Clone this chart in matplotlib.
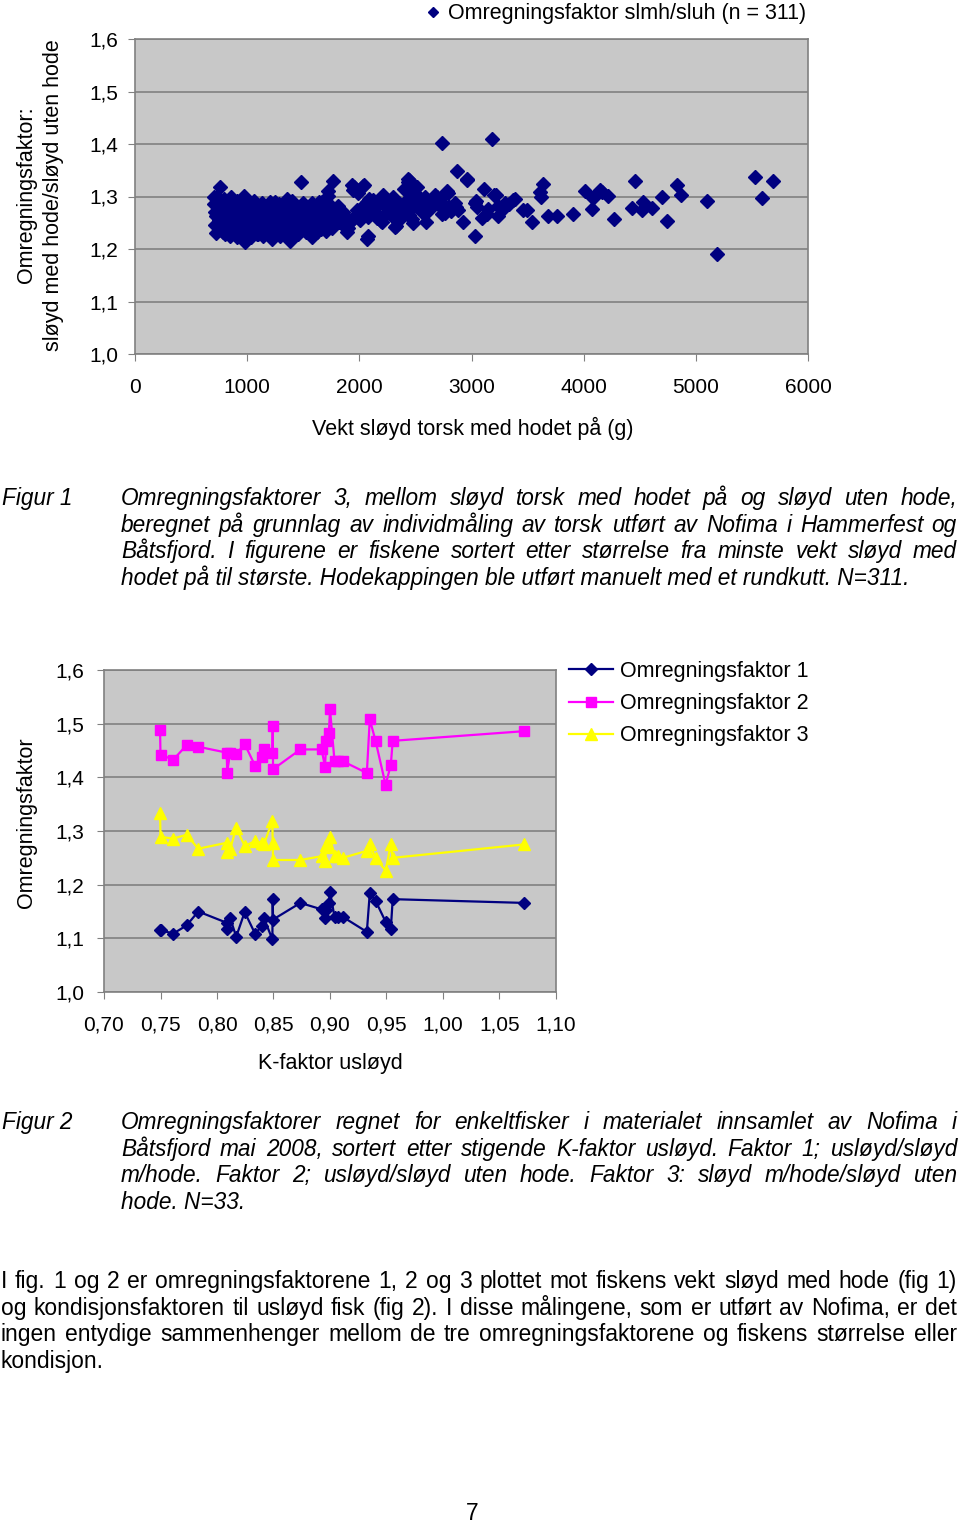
import matplotlib
matplotlib.use("Agg")
import matplotlib.pyplot as plt
import numpy as np

plt.rcParams['font.family'] = ['Liberation Sans', 'DejaVu Sans']

W, H = 960, 1524

# ===================== Data figur 1 : vekt (g) og omregningsfaktor slmh/sluh =====================
vekt = [
    700, 705, 712, 715, 720, 725, 735, 740, 745, 750, 758, 760,
    770, 778, 785, 790, 800, 805, 812, 820, 830, 838, 845, 850, 856,
    862, 870, 878, 885, 890, 900, 905, 912, 920, 928, 935, 942, 950,
    960, 968, 975, 980, 985, 992, 1000, 1008, 1015, 1022, 1030, 1038, 1045, 1050,
    1064, 1070, 1078, 1085, 1092, 1099, 1105, 1112, 1120, 1128, 1135, 1142, 1150,
    1160, 1168, 1175, 1182, 1190, 1198, 1205, 1212, 1218, 1225, 1232, 1240, 1248,
    1258, 1265, 1272, 1280, 1288, 1295, 1302, 1310, 1318, 1325, 1332, 1340, 1352,
    1360, 1368, 1375, 1381, 1388, 1395, 1402, 1410, 1418, 1425, 1432, 1440, 1448,
    1456, 1462, 1470, 1476, 1485, 1492, 1500, 1508, 1515, 1522, 1530, 1538, 1545, 1552,
    1560, 1568, 1574, 1575, 1582, 1590, 1598, 1605, 1612, 1620, 1628, 1635, 1642, 1649,
    1658, 1664, 1672, 1680, 1688, 1695, 1705, 1718, 1723, 1730, 1738, 1745, 1752, 1760, 1768, 1775, 1785, 1795,
    1813, 1820, 1843, 1850, 1855, 1870, 1887, 1900, 1910, 1931, 1935, 1945, 1950, 1960, 1975, 1991, 2006, 2020,
    2034, 2040, 2050, 2065, 2068, 2073, 2080, 2085, 2095, 2110, 2125, 2140, 2155, 2170,
    2191, 2199, 2214, 2220, 2240, 2259, 2275, 2290, 2303, 2318, 2329, 2340, 2360, 2377,
    2390, 2400, 2407, 2420, 2435, 2437, 2440, 2443, 2455, 2466, 2470, 2481, 2500, 2511,
    2526, 2540, 2560, 2585, 2590, 2600, 2620, 2645, 2660, 2675, 2690, 2700, 2715, 2733,
    2734, 2741, 2764, 2780, 2787, 2800, 2820, 2853, 2860, 2867, 2883, 2927, 2957,
    2961, 3031, 3034, 3036, 3050, 3090, 3110, 3134, 3150, 3181, 3204, 3216, 3232,
    3239, 3291, 3298, 3338, 3372, 3389, 3462, 3499, 3536, 3613, 3620, 3633, 3684,
    3762, 3908, 4012, 4071, 4086, 4150, 4160, 4219, 4272, 4428, 4457, 4517, 4532,
    4606, 4697, 4746, 4829, 4864, 5096, 5185, 5527, 5587, 5691,
]
faktor_slmh_sluh = [
    1.300, 1.285, 1.270, 1.245, 1.262, 1.230, 1.300, 1.278, 1.255, 1.240, 1.319, 1.290,
    1.268, 1.248, 1.232, 1.296, 1.229, 1.280, 1.262, 1.240, 1.285, 1.255, 1.225, 1.272, 1.300,
    1.245, 1.288, 1.260, 1.235, 1.275, 1.250, 1.222, 1.292, 1.265, 1.240, 1.280, 1.228, 1.258,
    1.272, 1.245, 1.301, 1.213, 1.285, 1.255, 1.232, 1.268, 1.290, 1.245, 1.222, 1.275, 1.258, 1.238,
    1.292, 1.265, 1.245, 1.280, 1.228, 1.229, 1.258, 1.272, 1.240, 1.288, 1.255, 1.225, 1.268,
    1.282, 1.245, 1.262, 1.232, 1.275, 1.252, 1.290, 1.238, 1.220, 1.265, 1.280, 1.248, 1.290,
    1.258, 1.232, 1.272, 1.245, 1.285, 1.225, 1.262, 1.240, 1.278, 1.255, 1.230, 1.268, 1.296,
    1.245, 1.280, 1.258, 1.215, 1.238, 1.272, 1.292, 1.250, 1.228, 1.265, 1.282, 1.242, 1.258,
    1.229, 1.275, 1.250, 1.327, 1.262, 1.238, 1.287, 1.255, 1.270, 1.232, 1.280, 1.248, 1.262, 1.240,
    1.255, 1.275, 1.222, 1.287, 1.245, 1.262, 1.235, 1.280, 1.252, 1.233, 1.268, 1.245, 1.290, 1.261,
    1.238, 1.290, 1.255, 1.272, 1.245, 1.262, 1.235, 1.311, 1.301, 1.250, 1.268, 1.282, 1.240, 1.258, 1.330, 1.270, 1.248, 1.262,
    1.281, 1.252, 1.258, 1.245, 1.270, 1.262, 1.233, 1.240, 1.250, 1.322, 1.255, 1.312, 1.318, 1.262, 1.275, 1.306, 1.255, 1.268,
    1.320, 1.322, 1.285, 1.290, 1.220, 1.225, 1.261, 1.296, 1.275, 1.282, 1.293, 1.271, 1.260, 1.285,
    1.254, 1.252, 1.303, 1.300, 1.268, 1.277, 1.290, 1.262, 1.299, 1.242, 1.244, 1.275, 1.285, 1.261,
    1.270, 1.315, 1.280, 1.292, 1.333, 1.328, 1.265, 1.331, 1.275, 1.306, 1.257, 1.249, 1.290, 1.319,
    1.281, 1.298, 1.270, 1.300, 1.252, 1.285, 1.275, 1.281, 1.292, 1.303, 1.300, 1.285, 1.295, 1.402,
    1.287, 1.266, 1.268, 1.311, 1.307, 1.280, 1.272, 1.287, 1.280, 1.348, 1.274, 1.252, 1.332,
    1.334, 1.225, 1.288, 1.292, 1.280, 1.259, 1.315, 1.266, 1.277, 1.410, 1.303, 1.303, 1.263,
    1.281, 1.279, 1.288, 1.285, 1.293, 1.295, 1.274, 1.275, 1.252, 1.309, 1.300, 1.323, 1.263,
    1.263, 1.267, 1.311, 1.276, 1.298, 1.312, 1.308, 1.301, 1.257, 1.279, 1.330, 1.274, 1.290,
    1.279, 1.299, 1.254, 1.321, 1.302, 1.292, 1.190, 1.337, 1.298, 1.330,
]
vekt_ticks = [0, 1000, 2000, 3000, 4000, 5000, 6000]
faktor_ticks = [1.0, 1.1, 1.2, 1.3, 1.4, 1.5, 1.6]
faktor_labels = ["1,0", "1,1", "1,2", "1,3", "1,4", "1,5", "1,6"]

# ===================== Data figur 2 : K-faktor og omregningsfaktor 1-3 =====================
kfaktor = [0.7496, 0.7500, 0.7614, 0.7731, 0.7834, 0.8086, 0.8090, 0.8116, 0.8170, 0.8245,
           0.8336, 0.8400, 0.8415, 0.8490, 0.8493, 0.8496, 0.8738, 0.8925, 0.8956, 0.8967,
           0.8990, 0.9000, 0.9040, 0.9075, 0.9113, 0.9326, 0.9352, 0.9403, 0.9492, 0.9538,
           0.9555, 1.0718]
faktor1 = [1.115, 1.115, 1.109, 1.124, 1.150, 1.129, 1.117, 1.138, 1.103, 1.149,
           1.109, 1.123, 1.138, 1.098, 1.173, 1.135, 1.166, 1.154, 1.137, 1.152,
           1.166, 1.187, 1.140, 1.140, 1.140, 1.112, 1.184, 1.170, 1.131, 1.117,
           1.173, 1.166]
faktor2 = [1.489, 1.442, 1.433, 1.460, 1.457, 1.446, 1.409, 1.446, 1.443, 1.462,
           1.422, 1.437, 1.452, 1.446, 1.496, 1.415, 1.452, 1.452, 1.420, 1.468,
           1.482, 1.527, 1.430, 1.430, 1.430, 1.408, 1.508, 1.468, 1.386, 1.423,
           1.468, 1.486]
faktor3 = [1.334, 1.289, 1.286, 1.293, 1.267, 1.278, 1.260, 1.266, 1.306, 1.272,
           1.281, 1.277, 1.275, 1.319, 1.277, 1.246, 1.246, 1.253, 1.244, 1.273,
           1.270, 1.288, 1.253, 1.253, 1.250, 1.263, 1.275, 1.250, 1.226, 1.275,
           1.250, 1.275]
k_ticks = [0.70, 0.75, 0.80, 0.85, 0.90, 0.95, 1.00, 1.05, 1.10]
k_labels = ["0,70", "0,75", "0,80", "0,85", "0,90", "0,95", "1,00", "1,05", "1,10"]

# ===================== Tekster =====================
tekst_fig1 = [
    "Omregningsfaktorer 3, mellom sløyd torsk med hodet på og sløyd uten hode,",
    "beregnet på grunnlag av individmåling av torsk utført av Nofima i Hammerfest og",
    "Båtsfjord. I figurene er fiskene sortert etter størrelse fra minste vekt sløyd med",
    "hodet på til største. Hodekappingen ble utført manuelt med et rundkutt. N=311.",
]
tekst_fig2 = [
    "Omregningsfaktorer regnet for enkeltfisker i materialet innsamlet av Nofima i",
    "Båtsfjord mai 2008, sortert etter stigende K-faktor usløyd. Faktor 1; usløyd/sløyd",
    "m/hode. Faktor 2; usløyd/sløyd uten hode. Faktor 3: sløyd m/hode/sløyd uten",
    "hode. N=33.",
]
tekst_avsnitt = [
    "I fig. 1 og 2 er omregningsfaktorene 1, 2 og 3 plottet mot fiskens vekt sløyd med hode (fig 1)",
    "og kondisjonsfaktoren til usløyd fisk (fig 2). I disse målingene, som er utført av Nofima, er det",
    "ingen entydige sammenhenger mellom de tre omregningsfaktorene og fiskens størrelse eller",
    "kondisjon.",
]

GRAA = '#c8c8c8'
LINJE = '#808080'
FS = 15.5

fig = plt.figure(figsize=(W / 100, H / 100), dpi=100)


def stil_akse(ax):
    ax.set_facecolor(GRAA)
    for s in ax.spines.values():
        s.set_color(LINJE)
        s.set_linewidth(1.2)
    ax.grid(axis='y', color=LINJE, lw=1.2)
    ax.set_axisbelow(True)
    ax.tick_params(direction='out', length=5, color=LINJE, labelsize=FS - 0.5)


# ===================== Figur 1 =====================
ax1 = fig.add_axes([135 / W, 1 - 354 / H, 673 / W, 315 / H])
stil_akse(ax1)
ax1.plot(vekt, faktor_slmh_sluh, linestyle='none', marker='D', ms=7, color='#000080',
         label='Omregningsfaktor slmh/sluh (n = 311)')
ax1.set_xlim(0, 6000)
ax1.set_ylim(1.0, 1.6)
ax1.set_xticks(vekt_ticks)
ax1.set_xticklabels([str(v) for v in vekt_ticks])
ax1.set_yticks(faktor_ticks)
ax1.set_yticklabels(faktor_labels)
ax1.tick_params(axis='x', pad=12)
ax1.tick_params(axis='y', pad=7)
ax1.legend(loc='lower right', bbox_to_anchor=(1.0, 1.04), frameon=False, fontsize=FS,
           handlelength=0.6, handletextpad=0.4, borderaxespad=0.0, borderpad=0.1,
           markerscale=0.8)

fig.text(40 / W, 1 - 195 / H, "Omregningsfaktor:\nsløyd med hode/sløyd uten hode",
         rotation=90, ha='center', va='center', multialignment='center',
         fontsize=FS, linespacing=1.4)
fig.text(473 / W, 1 - 428 / H, "Vekt sløyd torsk med hodet på (g)",
         ha='center', va='center', fontsize=FS)

# ===================== Figur 2 =====================
ax2 = fig.add_axes([104 / W, 1 - 992 / H, 452 / W, 322 / H])
stil_akse(ax2)
ax2.plot(kfaktor, faktor1, color='#000080', marker='D', ms=6.5, lw=1.6, label='Omregningsfaktor 1')
ax2.plot(kfaktor, faktor2, color='#ff00ff', marker='s', ms=7.5, lw=1.6, label='Omregningsfaktor 2')
ax2.plot(kfaktor, faktor3, color='#ffff00', marker='^', ms=9, lw=1.6, label='Omregningsfaktor 3')
ax2.set_xlim(0.70, 1.10)
ax2.set_ylim(1.0, 1.6)
ax2.set_xticks(k_ticks)
ax2.set_xticklabels(k_labels)
ax2.set_yticks(faktor_ticks)
ax2.set_yticklabels(faktor_labels)
ax2.tick_params(axis='x', pad=12)
ax2.tick_params(axis='y', pad=9)
ax2.legend(loc='upper left', bbox_to_anchor=(1.009, 1.055), frameon=False, fontsize=FS,
           handlelength=2.05, handletextpad=0.35, borderaxespad=0.0, labelspacing=0.52)

fig.text(27 / W, 1 - 823 / H, "Omregningsfaktor", rotation=90, ha='center', va='center', fontsize=FS)
fig.text(330 / W, 1 - 1063 / H, "K-faktor usløyd", ha='center', va='center', fontsize=FS)

# ===================== Tekst på siden =====================
r = fig.canvas.get_renderer()


def justert(linjer, x0, x1, y0, dy, **kw):
    for i, linje in enumerate(linjer):
        yy = 1 - (y0 + i * dy) / H
        ord_ = linje.split()
        if i == len(linjer) - 1:
            fig.text(x0 / W, yy, linje, ha='left', va='baseline', **kw)
            continue
        tekster = [fig.text(0, yy, o, ha='left', va='baseline', **kw) for o in ord_]
        bredder = [t.get_window_extent(r).width for t in tekster]
        mellom = (x1 - x0 - sum(bredder)) / (len(ord_) - 1)
        x = x0
        for t, b in zip(tekster, bredder):
            t.set_x(x / W)
            x += b + mellom


fig.text(2 / W, 1 - 505 / H, "Figur 1", style='italic', fontsize=16.3, va='baseline')
justert(tekst_fig1, 121, 957, 505, 26.7, style='italic', fontsize=16.3)

fig.text(2 / W, 1 - 1129 / H, "Figur 2", style='italic', fontsize=16.3, va='baseline')
justert(tekst_fig2, 121, 957, 1129, 26.7, style='italic', fontsize=16.3)

justert(tekst_avsnitt, 1, 957, 1288, 26.6, fontsize=16.5)

fig.text(472 / W, 1 - 1513 / H, "7", ha='center', va='center', fontsize=16.5)

fig.savefig("out.png", dpi=100)
